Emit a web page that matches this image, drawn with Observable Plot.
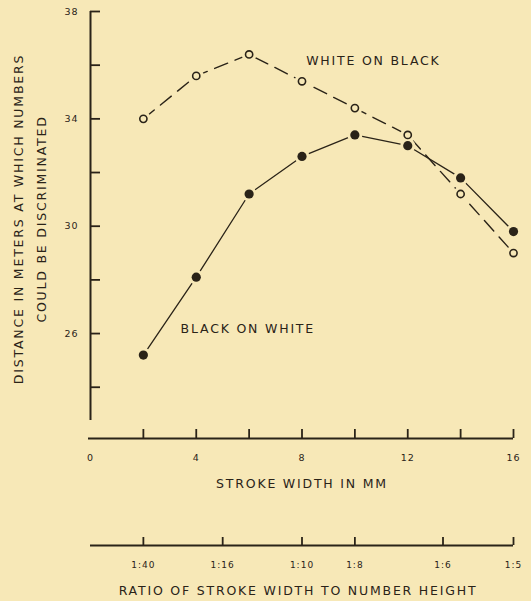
<!DOCTYPE html>
<html><head><meta charset="utf-8">
<script src="https://cdn.jsdelivr.net/npm/d3@7"></script>
<script src="https://cdn.jsdelivr.net/npm/@observablehq/plot@0.6"></script>
<style>
html,body{margin:0;padding:0;background:#f7e8b7;}
#chart{width:531px;height:601px;overflow:hidden}
svg{display:block}
.main g[aria-label="text"] text, .ratio g[aria-label="text"] text{letter-spacing:1.8px}
.main g[aria-label="y-axis tick label"] text, .main g[aria-label="x-axis tick label"] text, .ratio g[aria-label="x-axis tick label"] text{letter-spacing:1px}
</style></head><body><div id="chart"></div>
<script>
// ---- data ----
const strokeWidthMM = [2, 4, 6, 8, 10, 12, 14, 16];
const whiteOnBlack = [34.0, 35.6, 36.4, 35.4, 34.4, 33.4, 31.2, 29.0];
const blackOnWhite = [25.2, 28.1, 31.2, 32.6, 33.4, 33.0, 31.8, 29.8];
const yTicks = [24, 26, 28, 30, 32, 34, 36, 38];
const yTickLabels = [26, 30, 34, 38];
const xTicks = [2, 4, 6, 8, 10, 12, 14, 16];
const xTickLabels = [0, 4, 8, 12, 16];
const ratioDenominators = [40, 16, 10, 8, 6, 5];
const numberHeightMM = 80;
const seriesNames = ["WHITE ON BLACK", "BLACK ON WHITE"];
const seriesLabelAt = [{x: 10.7, y: 36.17}, {x: 5.95, y: 26.18}];
const yAxisTitle = "DISTANCE IN METERS AT WHICH NUMBERS\nCOULD BE DISCRIMINATED";
const xAxisTitle = "STROKE WIDTH IN MM";
const ratioAxisTitle = "RATIO OF STROKE WIDTH TO NUMBER HEIGHT";

// ---- styling ----
const bg = "#f7e8b7";
const ink = "#2a2318";
const font = "'DejaVu Sans', sans-serif";

const wob = strokeWidthMM.map((x, i) => ({x, y: whiteOnBlack[i]}));
const bow = strokeWidthMM.map((x, i) => ({x, y: blackOnWhite[i]}));
const yDomain = [22.09, 38];

const main = Plot.plot({
  width: 531, height: 500,
  marginLeft: 90, marginRight: 18, marginTop: 11, marginBottom: 62,
  className: "main",
  style: {background: "transparent", color: ink, fontFamily: font, fontSize: "9.5px", overflow: "visible"},
  x: {domain: [0, 16]},
  y: {domain: yDomain},
  marks: [
    Plot.ruleX([0], {insetBottom: 18, stroke: ink, strokeWidth: 2}),
    Plot.ruleY([yDomain[0]], {stroke: ink, strokeWidth: 2, insetLeft: -2}),
    Plot.axisY(yTicks, {tickSize: 10, dx: 10, tickPadding: 12, strokeWidth: 1.8, label: null,
      tickFormat: d => yTickLabels.includes(d) ? String(d) : "", fontSize: 9.5}),
    Plot.axisX(xTicks, {tickSize: 9, dy: -9, strokeWidth: 1.8, label: null, tickFormat: () => ""}),
    Plot.axisX(xTickLabels, {tickSize: 0, tickPadding: 16, label: null, fontSize: 9.5}),
    Plot.line(wob, {x: "x", y: "y", stroke: ink, strokeWidth: 1.4, strokeDasharray: "14,8"}),
    Plot.line(bow, {x: "x", y: "y", stroke: ink, strokeWidth: 1.3}),
    Plot.dot(wob.concat(bow), {x: "x", y: "y", r: 7.5, fill: bg, stroke: null}),
    Plot.dot(wob, {x: "x", y: "y", r: 3.6, fill: bg, stroke: ink, strokeWidth: 1.6}),
    Plot.dot(bow, {x: "x", y: "y", r: 4.6, fill: ink, stroke: null}),
    Plot.text(seriesLabelAt, {x: "x", y: "y", text: seriesNames, fill: ink, fontSize: 12.5}),
    Plot.text([yAxisTitle], {frameAnchor: "left", textAnchor: "middle", lineAnchor: "middle", rotate: -90,
      dx: -63.5, dy: -6, lineHeight: 1.84, fill: ink, fontSize: 12.5}),
    Plot.text([xAxisTitle], {frameAnchor: "bottom", lineAnchor: "middle", dy: 45, fill: ink, fontSize: 12.5})
  ]
});

const ratio = Plot.plot({
  width: 531, height: 101,
  marginLeft: 90, marginRight: 18, marginTop: 0, marginBottom: 56,
  className: "ratio",
  style: {background: "transparent", color: ink, fontFamily: font, fontSize: "9px", overflow: "visible"},
  x: {domain: [0, 16]},
  y: {domain: [0, 1], axis: null},
  marks: [
    Plot.ruleY([0], {stroke: ink, strokeWidth: 2}),
    Plot.axisX(ratioDenominators.map(d => numberHeightMM / d), {tickSize: 8, dy: -8, strokeWidth: 1.8,
      tickPadding: 16, label: null, fontSize: 9,
      tickFormat: d => "1:" + Math.round(numberHeightMM / d)}),
    Plot.text([ratioAxisTitle], {frameAnchor: "bottom", lineAnchor: "middle", dy: 45, dx: -4, fill: ink, fontSize: 12.5})
  ]
});

const c = document.getElementById("chart");
c.appendChild(main);
c.appendChild(ratio);
</script>
</body></html>
